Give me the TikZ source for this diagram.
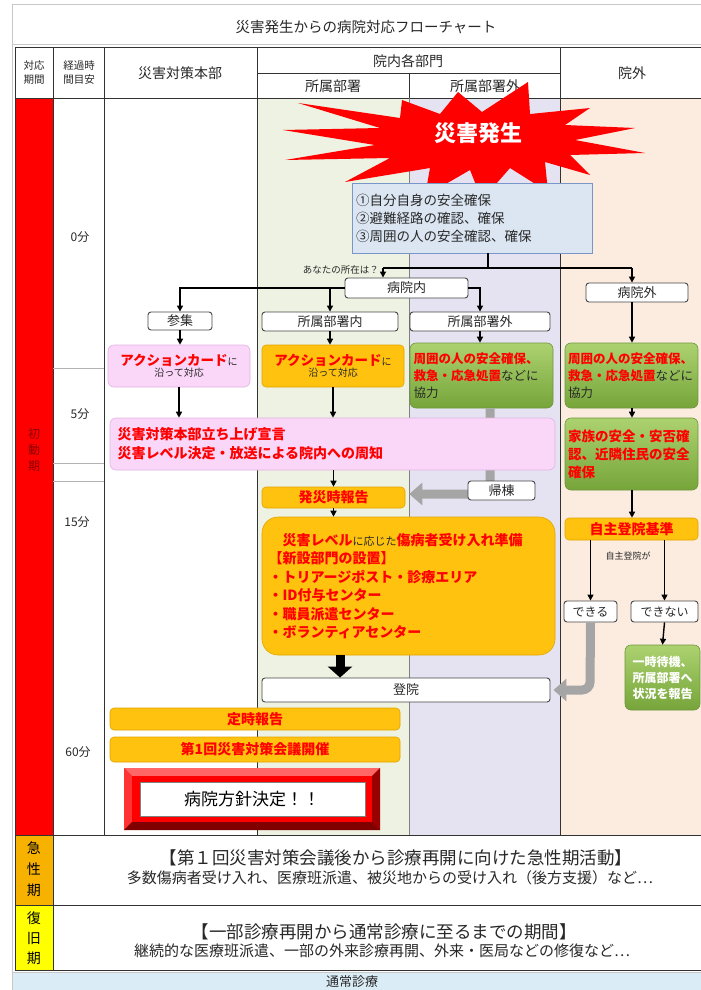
\documentclass[tikz,border=0pt]{standalone}
\usepackage{fontspec}
\setmainfont{Noto Sans CJK JP}
\usetikzlibrary{arrows.meta}
\definecolor{txt}{RGB}{40,40,40}
\definecolor{redc}{RGB}{255,0,0}
\definecolor{goldc}{RGB}{255,194,14}
\definecolor{golde}{RGB}{225,165,0}
\definecolor{pinkc}{RGB}{250,214,248}
\definecolor{pinke}{RGB}{225,180,225}
\definecolor{greenTop}{RGB}{172,210,112}
\definecolor{greenBot}{RGB}{118,165,58}
\definecolor{greenE}{RGB}{110,150,60}
\definecolor{blueF}{RGB}{220,230,243}
\definecolor{blueE}{RGB}{120,150,200}
\definecolor{colA}{RGB}{238,242,226}
\definecolor{colB}{RGB}{229,227,241}
\definecolor{colC}{RGB}{252,236,224}
\definecolor{orangeC}{RGB}{247,178,0}
\definecolor{yellowC}{RGB}{255,255,0}
\definecolor{normalC}{RGB}{218,236,245}
\definecolor{gridC}{RGB}{50,50,50}
\definecolor{frameC}{RGB}{200,200,200}
\definecolor{arrGray}{RGB}{165,165,165}
\definecolor{boxLine}{RGB}{70,70,70}
\definecolor{darkRed}{RGB}{140,0,0}
\newcommand\fsz[2]{\fontsize{#1}{#2}\selectfont}
\newcommand\redb[1]{{\bfseries\color{redc}#1}}
\begin{document}
\begin{tikzpicture}[x=1pt,y=-1pt,
  every node/.style={inner sep=2pt, text=txt},
  hdr/.style={font=\fsz{14}{16}},
  wbox/.style={draw=boxLine, line width=0.9pt, fill=white, rounded corners=3pt, font=\fsz{13}{15}},
  goldb/.style={fill=goldc, draw=golde, line width=0.6pt, rounded corners=4pt},
  pinkb/.style={fill=pinkc, draw=pinke, line width=0.6pt, rounded corners=6pt},
  greenbox/.style={top color=greenTop, bottom color=greenBot, draw=greenE, line width=0.6pt, rounded corners=6pt},
  arr/.style={line width=1.4pt, -{Triangle[length=6pt,width=6pt]}},
  conn/.style={line width=1.4pt},
  grayarr/.style={line width=9pt, draw=arrGray, rounded corners=8pt, -{Triangle[length=13pt,width=22pt]}},
  bigarr/.style={line width=9pt, -{Triangle[length=11pt,width=24pt]}},
  grid/.style={draw=gridC, line width=1pt},
  thin/.style={draw=gray!60, line width=0.6pt}
]
\useasboundingbox (0,0) rectangle (701,990);
\fill[white] (0,0) rectangle (701,990);
% column backgrounds
\fill[colA] (257,98) rectangle (409,835);
\fill[colB] (409,98) rectangle (560,835);
\fill[colC] (560,98) rectangle (701,835);
\fill[redc] (15,98) rectangle (53,835);
\fill[orangeC] (15,835) rectangle (53,905);
\fill[yellowC] (15,905) rectangle (53,970);
\fill[normalC] (12,972) rectangle (701,990);
\draw[frameC, line width=1pt] (12,990) -- (12,5) -- (701,5);
\draw[frameC, line width=1pt] (12,45) -- (701,45);
\draw[frameC, line width=0.8pt] (12,972) -- (701,972);
% grid
\draw[grid] (15,48) -- (701,48);
\draw[grid] (257,73) -- (560,73);
\draw[grid] (15,98) -- (701,98);
\draw[grid] (15,835) -- (701,835);
\draw[grid] (15,905) -- (701,905);
\draw[grid] (15,970) -- (701,970);
\draw[grid] (15,48) -- (15,970);
\draw[grid] (53,48) -- (53,970);
\draw[grid] (104,48) -- (104,835);
\draw[grid] (257,48) -- (257,835);
\draw[draw=gray, line width=0.8pt] (409,73) -- (409,835);
\draw[grid] (409,73) -- (409,98);
\draw[grid] (560,48) -- (560,835);
\draw[thin] (53,368) -- (104,368);
\draw[thin] (53,463) -- (104,463);
\draw[thin] (53,481) -- (104,481);
% header texts
\node[font=\fsz{14.5}{16}] (title) at (366,27) {災害発生からの病院対応フローチャート};
\node[font=\fsz{10.5}{14}, align=center] (h1) at (34,73) {対応\\期間};
\node[font=\fsz{10.5}{14}, align=center] (h2) at (79,73) {経過時\\間目安};
\node[hdr] (h3) at (180,73) {災害対策本部};
\node[hdr] (h4) at (408,61) {院内各部門};
\node[hdr] (h5) at (333,86) {所属部署};
\node[hdr] (h6) at (485,86) {所属部署外};
\node[hdr] (h7) at (632,73) {院外};
% time labels
\node[font=\fsz{12}{14}] (t0) at (80,237) {0分};
\node[font=\fsz{12}{14}] (t5) at (80,414) {5分};
\node[font=\fsz{12}{14}] (t15) at (77,522) {15分};
\node[font=\fsz{12}{14}] (t60) at (78,752) {60分};
\node[font=\fsz{12}{16}, align=center, text=darkRed] (p1) at (34,450) {初\\動\\期};
\node[font=\fsz{14}{21}, align=center, text=black] (p2) at (34,869) {急\\性\\期};
\node[font=\fsz{14}{20}, align=center, text=black] (p3) at (34,938) {復\\旧\\期};
% bottom rows
\node[font=\fsz{17.5}{19}] (a1) at (396,858) {【第１回災害対策会議後から診療再開に向けた急性期活動】};
\node[font=\fsz{15}{16}] (a2) at (390,878) {多数傷病者受け入れ、医療班派遣、被災地からの受け入れ（後方支援）など…};
\node[font=\fsz{17.5}{19}] (r1) at (384,932) {【一部診療再開から通常診療に至るまでの期間】};
\node[font=\fsz{15}{16}] (r2) at (382,951) {継続的な医療班派遣、一部の外来診療再開、外来・医局などの修復など…};
\node[font=\fsz{13}{14}, inner sep=0pt] (n1) at (352,982) {通常診療};
% starburst
\fill[redc] (283,130) -- (380,128) -- (298,103) -- (400,118) -- (402,100) -- (440,114) -- (458,92)
  -- (482,112) -- (528,82) -- (530,114) -- (590,108) -- (565,125) -- (635,128) -- (575,140)
  -- (645,153) -- (570,155) -- (590,175) -- (545,162) -- (548,192) -- (510,168) -- (482,200)
  -- (470,170) -- (425,196) -- (430,168) -- (345,182) -- (390,158) -- (285,160) -- (375,145) -- cycle;
\node[font=\fsz{22}{24}\bfseries, text=white] (burst) at (478,133) {災害発生};
% blue box
\node[fill=blueF, draw=blueE, line width=0.8pt, minimum width=240pt, minimum height=70pt,
  text width=232pt, align=left, font=\fsz{13.5}{18}] (blue) at (472,218)
  {①自分自身の安全確保\\②避難経路の確認、確保\\③周囲の人の安全確認、確保};
% branch boxes
\node[wbox, minimum width=123pt, minimum height=20pt] (inb) at (406.5,288) {病院内};
\node[wbox, minimum width=102pt, minimum height=19pt] (outb) at (637,292.5) {病院外};
\node[wbox, minimum width=64pt, minimum height=18pt] (sanshu) at (180,321) {参集};
\node[wbox, minimum width=136pt, minimum height=19pt] (ssin) at (330,321.5) {所属部署内};
\node[wbox, minimum width=140pt, minimum height=19pt] (ssout) at (480,321.5) {所属部署外};
\coordinate (j0) at (488,268);
\coordinate (jl) at (383,268);
\coordinate (jr) at (632,268);
\draw[conn] (blue.south -| j0) -- (j0);
\draw[conn] (jl) -- (jr);
\draw[arr] (jl) -- (jl |- inb.north);
\draw[arr] (jr) -- (jr |- outb.north);
\node[font=\fsz{9.5}{11}, anchor=east] (where) at (381,270) {あなたの所在は？};
\draw[arr] (inb.west) -| (sanshu.north);
\draw[arr] (inb.west -| ssin.north) -- (ssin.north);
\draw[arr] (inb.east) -| (ssout.north);
% action boxes
\node[pinkb, minimum width=142pt, minimum height=42pt, align=center] (pink1) at (179,366)
  {\redb{\fsz{13.5}{16}アクションカード}{\fsz{10}{16}に}\\[-1pt]{\fsz{10}{13}沿って対応}};
\node[goldb, minimum width=142pt, minimum height=42pt, align=center] (gold1) at (333,366)
  {\redb{\fsz{13.5}{16}アクションカード}{\fsz{10}{16}に}\\[-1pt]{\fsz{10}{13}沿って対応}};
\node[greenbox, minimum width=143pt, minimum height=65pt, text width=136pt, align=left,
  font=\fsz{12.5}{17}] (green1) at (481.5,375.5)
  {\redb{周囲の人の安全確保、}\\\redb{救急・応急処置}などに\\協力};
\node[greenbox, minimum width=133pt, minimum height=65pt, text width=127pt, align=left,
  font=\fsz{12.5}{17}] (green2) at (631.5,375.5)
  {\redb{周囲の人の安全確保、}\\\redb{救急・応急処置}などに\\協力};
\draw[arr] (sanshu.south) -- (pink1.north -| sanshu.south);
\draw[arr] (ssin.south) -- (ssin.south |- gold1.north);
\draw[arr] (ssout.south) -- (ssout.south |- green1.north);
\draw[arr] (outb.south -| jr) -- (jr |- green2.north);
% report box and return arrow
\node[goldb, minimum width=143pt, minimum height=21pt, font=\fsz{14}{16}] (hassai) at (333.5,497.5) {\redb{発災時報告}};
\coordinate (kc) at (490,494);
\draw[grayarr, shorten >=4pt] (green1.south -| kc) -- (kc) -- (hassai.east |- kc);
% big pink
\node[pinkb, minimum width=445pt, minimum height=52pt, text width=430pt, align=left,
  font=\fsz{14}{19}] (bigpink) at (332.5,444)
  {\redb{災害対策本部立ち上げ宣言}\\\redb{災害レベル決定・放送による院内への周知}};
\node[wbox, minimum width=67pt, minimum height=19pt] (kitou) at (501.5,490.5) {帰棟};
\draw[arr] (pink1.south) -- (pink1.south |- bigpink.north);
\draw[arr] (gold1.south) -- (gold1.south |- bigpink.north);
\draw[arr] (bigpink.south -| hassai.north) -- (hassai.north);
% right column
\node[greenbox, minimum width=133pt, minimum height=72pt, text width=127pt, align=left,
  font=\fsz{13.5}{18}] (green3) at (631.5,454)
  {\redb{家族の安全・安否確}\\\redb{認、近隣住民の安全}\\\redb{確保}};
\node[goldb, minimum width=133pt, minimum height=22pt, font=\fsz{14}{16}] (jishu) at (631.5,529) {\redb{自主登院基準}};
\draw[arr] (green2.south -| jr) -- (jr |- green3.north);
\draw[arr] (green3.south -| jr) -- (jr |- jishu.north);
\node[wbox, minimum width=53pt, minimum height=21pt, font=\fsz{12}{14}] (dekiru) at (590.5,611.5) {できる};
\node[wbox, minimum width=67pt, minimum height=21pt, font=\fsz{12}{14}] (dekinai) at (664.5,611.5) {できない};
\draw[arr] (jishu.south -| dekiru.north) -- (dekiru.north);
\draw[arr] (jishu.south -| dekinai.north) -- (dekinai.north);
\node[font=\fsz{9}{11}] (jlabel) at (628,556) {自主登院が};
\node[greenbox, minimum width=75pt, minimum height=65pt, align=center,
  font=\fsz{12}{16}\bfseries, text=white] (ichiji) at (662.5,677.5) {一時待機、\\所属部署へ\\状況を報告};
\draw[arr] (dekinai.south) -- (ichiji.north);
% big gold box
\node[goldb, rounded corners=16pt, minimum width=293pt, minimum height=138pt, text width=280pt,
  align=left, font=\fsz{14}{18.5}] (goldbig) at (408.5,586)
  {\hspace*{14pt}\redb{災害レベル}{\fsz{11}{18.5}に応じた}\redb{傷病者受け入れ準備}\\
   \redb{【新設部門の設置】}\\
   \redb{・トリアージポスト・診療エリア}\\
   \redb{・ID付与センター}\\
   \redb{・職員派遣センター}\\
   \redb{・ボランティアセンター}\\[10pt]};
\draw[arr] (hassai.south) -- (hassai.south |- goldbig.north);
\node[wbox, minimum width=288pt, minimum height=24pt] (touin) at (406,690) {登院};
\coordinate (ba) at (340,0);
\draw[bigarr] (goldbig.south -| ba) -- (touin.north -| ba);
\coordinate (dc) at (590,690);
\draw[grayarr, shorten >=3pt] (dekiru.south) -- (dc) -- (touin.east |- dc);
% left bottom
\node[goldb, minimum width=290pt, minimum height=22pt, font=\fsz{14}{16}] (teiji) at (255,719) {\redb{定時報告}};
\node[goldb, minimum width=290pt, minimum height=25pt, font=\fsz{14}{16}] (kaigi) at (255,749.5) {\redb{第1回災害対策会議開催}};
% policy frame
\fill[red!75!black] (124,768) rectangle (380,830);
\fill[red!60!white] (124,768) -- (380,768) -- (372,776) -- (132,776) -- cycle;
\fill[red!80!white] (124,768) -- (132,776) -- (132,822) -- (124,830) -- cycle;
\fill[red!60!black] (380,768) -- (380,830) -- (372,822) -- (372,776) -- cycle;
\fill[red!50!black] (124,830) -- (380,830) -- (372,822) -- (132,822) -- cycle;
\fill[redc] (132,776) rectangle (372,822);
\filldraw[fill=white, draw=gray, line width=0.5pt] (140,782) rectangle (365,816);
\node[font=\fsz{17}{20}, text=black] (policy) at (252,799) {病院方針決定！！};
\end{tikzpicture}
\end{document}
